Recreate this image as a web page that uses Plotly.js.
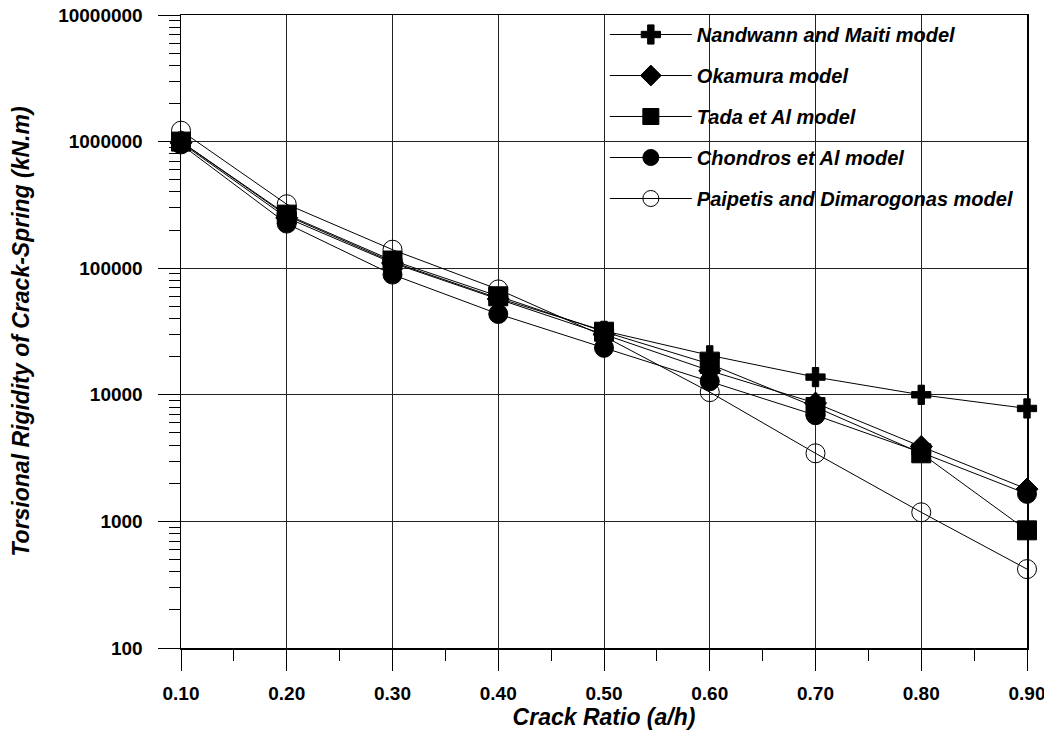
<!DOCTYPE html>
<html>
<head>
<meta charset="utf-8">
<script src="https://cdn.plot.ly/plotly-3.0.1.min.js"></script>
<style>html,body{margin:0;padding:0;background:#fff;}#chart{width:1044px;height:731px;}</style>
</head>
<body>
<div id="chart"></div>
<script>
const crackRatio = [0.1, 0.2, 0.3, 0.4, 0.5, 0.6, 0.7, 0.8, 0.9];
const nandwann  = [1000000, 260000, 112000, 58000, 32000, 20500, 13800, 10000, 7800];
const okamura   = [980000, 250000, 110000, 57000, 30000, 15500, 8600, 3900, 1800];
const tada      = [1000000, 265000, 115000, 60000, 31500, 17500, 8000, 3450, 850];
const chondros  = [950000, 225000, 89000, 43500, 23500, 12800, 6900, 3500, 1650];
const paipetis  = [1220000, 320000, 140000, 68000, 29000, 10500, 3450, 1180, 420];
const seriesNames = ["Nandwann and Maiti model", "Okamura model", "Tada et Al model", "Chondros et Al model", "Paipetis and Dimarogonas model"];
const yTickVals = [100, 1000, 10000, 100000, 1000000, 10000000];
const yTickText = ["100", "1000", "10000", "100000", "1000000", "10000000"];
const xTickVals = [0.1, 0.2, 0.3, 0.4, 0.5, 0.6, 0.7, 0.8, 0.9];
const xTickText = ["0.10", "0.20", "0.30", "0.40", "0.50", "0.60", "0.70", "0.80", "0.90"];

const allY = [nandwann, okamura, tada, chondros, paipetis];
const symbols = ["cross", "diamond", "square", "circle", "circle-open"];
const sizes = [16, 17, 19, 19, 19];

const traces = allY.map((ys, i) => ({
  x: crackRatio,
  y: ys,
  name: seriesNames[i],
  legendgroup: "g" + i,
  type: "scatter",
  mode: "lines+markers",
  cliponaxis: false,
  line: {color: "#000", width: 1},
  marker: {symbol: symbols[i], size: sizes[i], color: "#000", line: {color: "#000", width: 1}}
}));

const font = "Liberation Sans, Arial, sans-serif";
const layout = {
  width: 1044, height: 731,
  margin: {l: 181, r: 17, t: 15, b: 83},
  paper_bgcolor: "#fff", plot_bgcolor: "#fff",
  showlegend: true,
  legend: {
    x: 0.501, y: 1.0, xanchor: "left", yanchor: "top",
    bgcolor: "rgba(0,0,0,0)", borderwidth: 0,
    font: {family: font, size: 20, color: "#000", weight: "bold", style: "italic"},
    itemwidth: 82, tracegroupgap: 12
  },
  xaxis: {
    type: "linear", range: [0.1, 0.9],
    tickvals: xTickVals, ticktext: xTickText,
    ticks: "outside", ticklen: 21, tickwidth: 1, tickcolor: "#000",
    ticklabelstandoff: 7, ticklabeloverflow: "allow",
    minor: {ticks: "outside", ticklen: 11, tickwidth: 1, tickcolor: "#000", dtick: 0.05, tick0: 0.05, showgrid: false},
    showgrid: true, gridcolor: "#222", gridwidth: 1,
    showline: true, linecolor: "#000", linewidth: 1.5, mirror: true,
    zeroline: false,
    tickfont: {family: font, size: 19, color: "#000", weight: "bold"},
    title: {text: "Crack Ratio (a/h)", standoff: 1, font: {family: font, size: 23, color: "#000", weight: "bold", style: "italic"}}
  },
  yaxis: {
    type: "log", range: [2, 7],
    tickvals: yTickVals, ticktext: yTickText,
    ticks: "outside", ticklen: 22, tickwidth: 1, tickcolor: "#000",
    ticklabelstandoff: 11,
    minor: {ticks: "outside", ticklen: 11, tickwidth: 1, tickcolor: "#000", dtick: "D1", showgrid: false},
    showgrid: true, gridcolor: "#222", gridwidth: 1,
    showline: true, linecolor: "#000", linewidth: 1.5, mirror: true,
    zeroline: false,
    tickfont: {family: font, size: 19, color: "#000", weight: "bold"},
    title: {text: "Torsional Rigidity of Crack-Spring (kN.m)", standoff: 22, font: {family: font, size: 23, color: "#000", weight: "bold", style: "italic"}}
  }
};

Plotly.newPlot("chart", traces, layout, {displayModeBar: false, staticPlot: true});
</script>
</body>
</html>
